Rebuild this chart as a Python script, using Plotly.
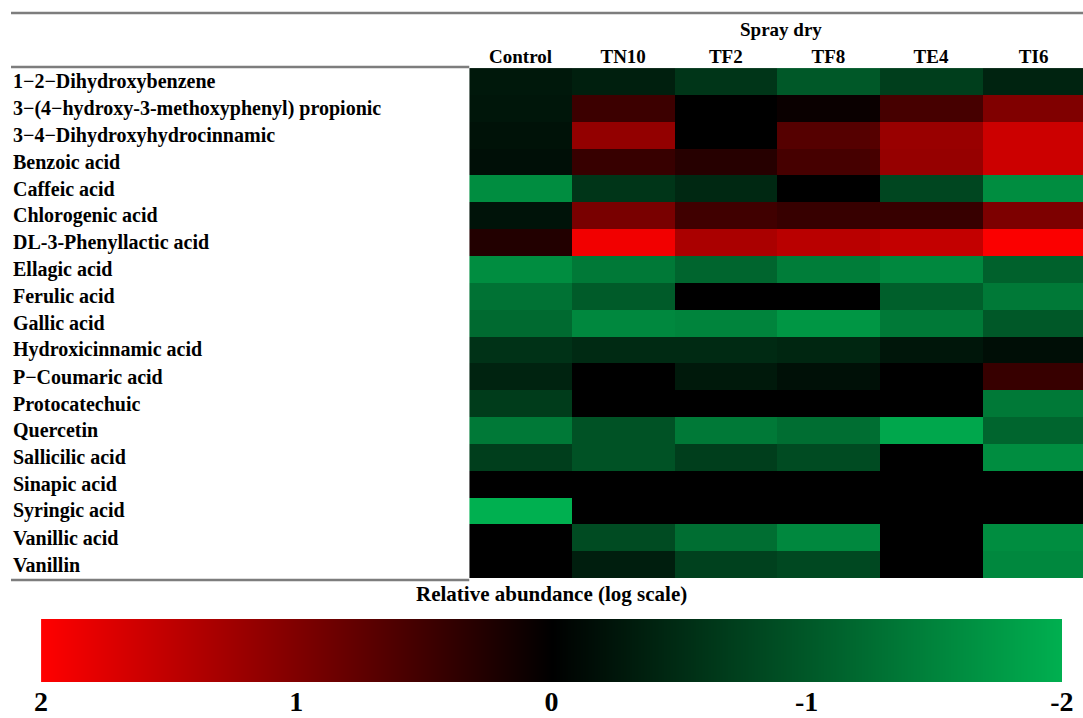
import plotly.graph_objects as go

compounds = [
    "1−2−Dihydroxybenzene",
    "3−(4−hydroxy-3-methoxyphenyl) propionic",
    "3−4−Dihydroxyhydrocinnamic",
    "Benzoic acid",
    "Caffeic acid",
    "Chlorogenic acid",
    "DL-3-Phenyllactic acid",
    "Ellagic acid",
    "Ferulic acid",
    "Gallic acid",
    "Hydroxicinnamic acid",
    "P−Coumaric acid",
    "Protocatechuic",
    "Quercetin",
    "Sallicilic acid",
    "Sinapic acid",
    "Syringic acid",
    "Vanillic acid",
    "Vanillin",
]
samples = ["Control", "TN10", "TF2", "TF8", "TE4", "TI6"]

control = [-0.27, -0.25, -0.2, -0.17, -1.6, -0.22, 0.27, -1.6, -1.3, -1.2, -0.57, -0.4, -0.68, -1.37, -0.7, 0.0, -2.0, 0.0, 0.0]
tn10 = [-0.35, 0.47, 1.15, 0.43, -0.6, 0.95, 1.9, -1.37, -1.03, -1.55, -0.48, 0.0, 0.0, -0.93, -0.93, 0.0, 0.0, -0.85, -0.34]
tf2 = [-0.6, 0.0, 0.0, 0.3, -0.45, 0.5, 1.33, -1.15, 0.0, -1.5, -0.48, -0.28, 0.0, -1.37, -0.7, 0.0, 0.0, -1.25, -0.74]
tf8 = [-1.0, 0.08, 0.67, 0.55, 0.0, 0.43, 1.45, -1.42, 0.0, -1.7, -0.43, -0.18, 0.0, -1.25, -0.85, 0.0, 0.0, -1.55, -0.82]
te4 = [-0.7, 0.55, 1.2, 1.18, -0.8, 0.43, 1.53, -1.55, -1.08, -1.37, -0.25, 0.0, 0.0, -1.9, 0.0, 0.0, 0.0, 0.0, 0.0]
ti6 = [-0.4, 1.0, 1.6, 1.6, -1.6, 0.98, 1.97, -1.1, -1.37, -1.0, -0.16, 0.43, -1.37, -1.15, -1.6, 0.0, 0.0, -1.6, -1.55]

scale_ticks = [2, 1, 0, -1, -2]
scale_steps = [2.0, 1.5, 1.0, 0.5, 0.0, -0.5, -1.0, -1.5, -2.0]

columns = [control, tn10, tf2, tf8, te4, ti6]
z = [[col[i] for col in columns] for i in range(len(compounds))]

W, H = 1097, 718
def px(X):
    return min(1.0, max(0.0, ((X - 8) / 0.98) / W))
def py(Y):
    return 1 - Y / H

cs = [[0.0, "rgb(0,176,80)"], [0.5, "rgb(0,0,0)"], [1.0, "rgb(255,0,0)"]]
FONT = "Liberation Serif"

fig = go.Figure()
fig.add_trace(go.Heatmap(
    z=z, x=samples, y=compounds, colorscale=cs, zmin=-2, zmax=2,
    showscale=False, xaxis="x", yaxis="y",
))
fig.add_trace(go.Heatmap(
    z=[scale_steps], x=scale_steps, y=["scale"], colorscale=cs, zmin=-2, zmax=2,
    showscale=False, xaxis="x2", yaxis="y2", zsmooth="best", hoverinfo="skip",
))

fig.update_layout(
    width=W, height=H, autosize=False,
    margin=dict(l=0, r=0, t=0, b=0),
    paper_bgcolor="white", plot_bgcolor="white",
    font=dict(family=FONT, color="black"),
    xaxis=dict(domain=[px(469), px(1083)], side="top", showgrid=False, zeroline=False,
               ticks="", tickfont=dict(family=FONT, size=19, color="black", weight="bold"),
               anchor="y", showline=False),
    yaxis=dict(domain=[py(578), py(68)], autorange="reversed", showticklabels=False,
               showgrid=False, zeroline=False, ticks="", anchor="x"),
    xaxis2=dict(domain=[px(42), px(1060)], range=[2, -2], anchor="y2", showgrid=False,
                zeroline=False, tickvals=scale_ticks, ticktext=[str(t) for t in scale_ticks],
                ticks="", tickfont=dict(family=FONT, size=28, color="black", weight="bold"),
                showline=False),
    yaxis2=dict(domain=[py(682), py(619)], showticklabels=False, showgrid=False,
                zeroline=False, ticks="", anchor="x2"),
    showlegend=False,
)

for name in compounds:
    fig.add_annotation(x=px(12), xref="paper", y=name, yref="y", text="<b>%s</b>" % name,
                       showarrow=False, xanchor="left", yanchor="middle",
                       font=dict(family=FONT, size=20, color="black"))

fig.add_annotation(x=px(780), xref="paper", y=py(29), yref="paper", text="<b>Spray dry</b>",
                   showarrow=False, xanchor="center", yanchor="middle",
                   font=dict(family=FONT, size=19, color="black"))
fig.add_annotation(x=px(551), xref="paper", y=py(594), yref="paper",
                   text="<b>Relative abundance (log scale)</b>",
                   showarrow=False, xanchor="center", yanchor="middle",
                   font=dict(family=FONT, size=21, color="black"))

line_style = dict(color="rgb(125,125,125)", width=2.5)
fig.add_shape(type="line", xref="paper", yref="paper", x0=px(12), x1=px(1083), y0=py(13), y1=py(13), line=line_style)
fig.add_shape(type="line", xref="paper", yref="paper", x0=px(12), x1=px(469), y0=py(67), y1=py(67), line=line_style)
fig.add_shape(type="line", xref="paper", yref="paper", x0=px(12), x1=px(469), y0=py(580), y1=py(580), line=line_style)

fig.write_html("out.html", config={"responsive": False, "displayModeBar": False})

with open("out.html", "r", encoding="utf-8") as f:
    html = f.read()
style = ("<style>html,body{margin:0 !important;padding:0 !important;overflow:hidden;}"
         ".plotly-graph-div{position:absolute !important;left:0;top:0;}</style>")
if "<head>" in html:
    html = html.replace("<head>", "<head>" + style, 1)
else:
    html = style + html
with open("out.html", "w", encoding="utf-8") as f:
    f.write(html)
